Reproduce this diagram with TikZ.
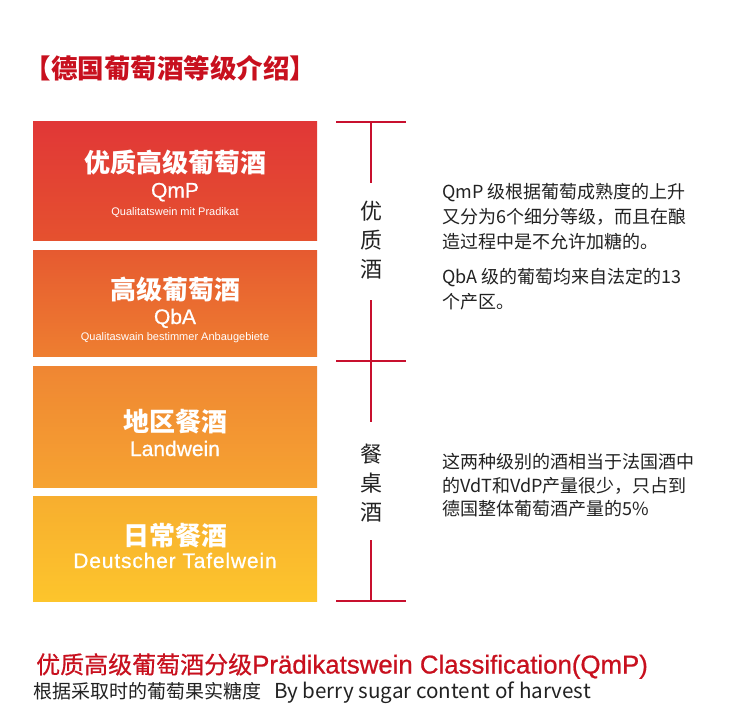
\documentclass[tikz,border=0pt]{standalone}
\usepackage{fontspec}
\setmainfont{Noto Sans CJK SC}
\newfontfamily\cjk{Noto Sans CJK SC}
\newfontfamily\cjkm{Noto Sans CJK SC}[FakeBold=0.6]
\newfontfamily\lat{Liberation Sans}
\newfontfamily\latm{Liberation Sans}[FakeBold=0.7]
\newfontfamily\latw{Liberation Sans}[FakeBold=0.7,LetterSpace=4]
\definecolor{brandred}{HTML}{C8101E}
\definecolor{lineRed}{HTML}{C8102E}
\definecolor{txtdark}{HTML}{222222}
\definecolor{gA1}{HTML}{E13737}
\definecolor{gA2}{HTML}{E5512F}
\definecolor{gB1}{HTML}{E65A30}
\definecolor{gB2}{HTML}{EE7E30}
\definecolor{gC1}{HTML}{EF8633}
\definecolor{gC2}{HTML}{F6A331}
\definecolor{gD1}{HTML}{F7AE2F}
\definecolor{gD2}{HTML}{FDC52C}
\begin{document}
\begin{tikzpicture}[x=1pt,y=-1pt,
  levelbox/.style={draw=none,minimum width=284pt,inner sep=0pt},
  boxcn/.style={text=white,anchor=base,inner sep=0pt,font=\cjk\bfseries\fontsize{26}{26}\selectfont},
  boxlat/.style={text=white,anchor=base,inner sep=0pt,font=\latm\fontsize{21}{21}\selectfont},
  boxsmall/.style={text=white,anchor=base,inner sep=0pt,font=\lat\fontsize{11}{11}\selectfont},
  brk/.style={draw=lineRed,line width=2pt},
  brklabel/.style={text=txtdark,anchor=base,inner sep=0pt,font=\cjk\fontsize{22}{22}\selectfont},
  note/.style={text=txtdark,anchor=base west,inner sep=0pt,font=\cjk\fontsize{18}{18}\selectfont}
]
\useasboundingbox (0,0) rectangle (750,716);
\fill[white] (0,0) rectangle (750,716);

% title
\node[anchor=base,inner sep=0pt,text=brandred,font=\cjk\bfseries\fontsize{26.5}{26.5}\selectfont] (title) at (170.5,78) {【德国葡萄酒等级介绍】};

% boxes
\node[levelbox,minimum height=119pt,top color=gA1,bottom color=gA2] (b1) at (175,180.5) {};
\node[levelbox,minimum height=106pt,top color=gB1,bottom color=gB2] (b2) at (175,303) {};
\node[levelbox,minimum height=121pt,top color=gC1,bottom color=gC2] (b3) at (175,426.5) {};
\node[levelbox,minimum height=105pt,top color=gD1,bottom color=gD2] (b4) at (175,548.5) {};

\node[boxcn] (b1cn) at (175,172) {优质高级葡萄酒};
\node[boxlat] (b1la) at (175,197.5) {QmP};
\node[boxsmall] (b1sm) at (175,215.5) {Qualitatswein mit Pradikat};

\node[boxcn] (b2cn) at (175,299) {高级葡萄酒};
\node[boxlat] (b2la) at (175,324) {QbA};
\node[boxsmall] (b2sm) at (175,340.5) {Qualitaswain bestimmer Anbaugebiete};

\node[boxcn] (b3cn) at (175,431) {地区餐酒};
\node[boxlat] (b3la) at (175,456) {Landwein};

\node[boxcn] (b4cn) at (175,545) {日常餐酒};
\node[boxlat,font=\latw\fontsize{21}{21}\selectfont] (b4la) at (175,568) {Deutscher Tafelwein};

% bracket
\coordinate (tl) at (336,122);
\coordinate (tr) at (406,122);
\coordinate (ml) at (336,361);
\coordinate (mr) at (406,361);
\coordinate (bl) at (336,601);
\coordinate (br) at (406,601);
\coordinate (vt) at (371,122);
\coordinate (v1) at (371,183);
\coordinate (v2) at (371,300);
\coordinate (v3) at (371,422);
\coordinate (v4) at (371,540);
\coordinate (vb) at (371,601);
\draw[brk] (tl) -- (tr);
\draw[brk] (ml) -- (mr);
\draw[brk] (bl) -- (br);
\draw[brk] (vt) -- (v1);
\draw[brk] (v2) -- (v3);
\draw[brk] (v4) -- (vb);

\node[brklabel] (u1) at (371,219.5) {优};
\node[brklabel] (u2) at (371,248.5) {质};
\node[brklabel] (u3) at (371,277.5) {酒};
\node[brklabel] (c1) at (371,462.5) {餐};
\node[brklabel] (c2) at (371,491.5) {桌};
\node[brklabel] (c3) at (371,520.5) {酒};

% notes
\node[note] (n1) at (442,198.5) {QmP 级根据葡萄成熟度的上升};
\node[note] (n2) at (442,223.5) {又分为6个细分等级，而且在酿};
\node[note] (n3) at (442,248.5) {造过程中是不允许加糖的。};
\node[note] (n4) at (442,283.5) {QbA 级的葡萄均来自法定的13};
\node[note] (n5) at (442,308.5) {个产区。};
\node[note] (n6) at (442,468.5) {这两种级别的酒相当于法国酒中};
\node[note] (n7) at (442,492) {的VdT和VdP产量很少，只占到};
\node[note] (n8) at (442,515.5) {德国整体葡萄酒产量的5\%};

% bottom
\node[anchor=base west,inner sep=0pt,text=brandred] (bt1) at (36,673.5) {{\cjkm\fontsize{24}{24}\selectfont 优质高级葡萄酒分级}{\latm\fontsize{25.8}{25.8}\selectfont Prädikatswein Classification(QmP)}};
\node[anchor=base west,inner sep=0pt,text=txtdark] (bt2) at (33,698) {{\cjk\fontsize{19}{19}\selectfont 根据采取时的葡萄果实糖度}\hspace{13pt}{\cjk\fontsize{20.6}{20.6}\selectfont By berry sugar content of harvest}};
\end{tikzpicture}
\end{document}
